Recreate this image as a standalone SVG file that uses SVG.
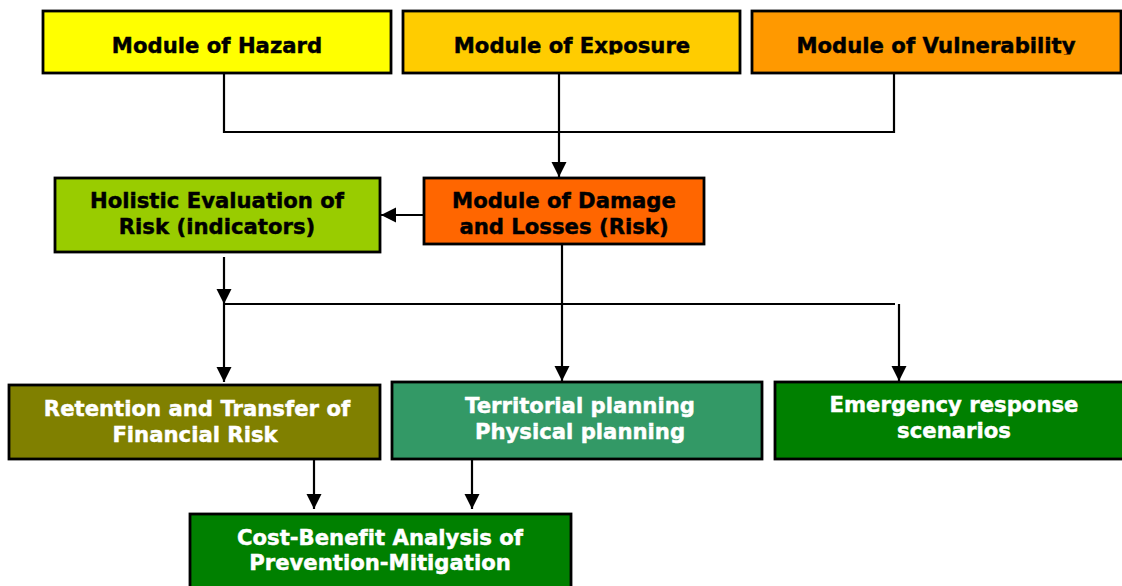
<svg xmlns="http://www.w3.org/2000/svg" width="1122" height="586" viewBox="0 0 1122 586">
<style>
.box{stroke:#000;stroke-width:2.8}
.t{font-family:"DejaVu Sans",Verdana,sans-serif;font-weight:bold;font-size:21.2px;text-anchor:middle;stroke-width:0.45px;font-variant-ligatures:none}
.dk{fill:#000;stroke:#000}
.wt{fill:#fff;stroke:#fff}
.ln{fill:none;stroke:#000;stroke-width:2.2}
</style>
<defs>
<marker id="ah" markerUnits="userSpaceOnUse" markerWidth="16" markerHeight="16" refX="15" refY="7.5" orient="auto">
<path d="M0,0 L15,7.5 L0,15 Z" fill="#000"/>
</marker>
<clipPath id="topclip"><rect x="0" y="0" width="1122" height="54.5"/></clipPath>
</defs>
<rect width="1122" height="586" fill="#fff"/>
<g id="connectors">
<polyline class="ln" points="224,74 224,132 894,132 894,74"/>
<line class="ln" x1="559" y1="74" x2="559" y2="132"/>
<line class="ln" x1="559" y1="132" x2="559" y2="177" marker-end="url(#ah)"/>
<line class="ln" x1="423" y1="215" x2="381" y2="215" marker-end="url(#ah)"/>
<line class="ln" x1="224" y1="257" x2="224" y2="304" marker-end="url(#ah)"/>
<polyline class="ln" points="224,304 895,304"/>
<line class="ln" x1="224" y1="304" x2="224" y2="382" marker-end="url(#ah)"/>
<line class="ln" x1="899" y1="304" x2="899" y2="381" marker-end="url(#ah)"/>
<line class="ln" x1="562" y1="244" x2="562" y2="381" marker-end="url(#ah)"/>
<line class="ln" x1="314" y1="460" x2="314" y2="509" marker-end="url(#ah)"/>
<line class="ln" x1="472" y1="460" x2="472" y2="509" marker-end="url(#ah)"/>
</g>
<g id="hazard">
<rect class="box" x="43" y="11" width="348" height="62" fill="#FFFF00"/>
<text class="t dk" x="217" y="53" clip-path="url(#topclip)">Module of Hazard</text>
</g>
<g id="exposure">
<rect class="box" x="403" y="11" width="337" height="62" fill="#FFCC00"/>
<text class="t dk" x="572" y="53" clip-path="url(#topclip)">Module of Exposure</text>
</g>
<g id="vulnerability">
<rect class="box" x="752" y="11" width="369" height="62" fill="#FF9900"/>
<text class="t dk" x="936" y="53" clip-path="url(#topclip)">Module of Vulnerability</text>
</g>
<g id="holistic">
<rect class="box" x="55" y="178" width="325" height="74" fill="#99CC00"/>
<text class="t dk" x="217" y="208">Holistic Evaluation of</text>
<text class="t dk" x="217" y="234">Risk (indicators)</text>
</g>
<g id="damage">
<rect class="box" x="424" y="178" width="280" height="66" fill="#FF6600"/>
<text class="t dk" x="564" y="208">Module of Damage</text>
<text class="t dk" x="564" y="234">and Losses (Risk)</text>
</g>
<g id="retention">
<rect class="box" x="9" y="385" width="371" height="74" fill="#808000"/>
<text class="t wt" x="197" y="416">Retention and Transfer of</text>
<text class="t wt" x="195" y="442">Financial Risk</text>
</g>
<g id="territorial">
<rect class="box" x="392" y="382" width="370" height="77" fill="#339966"/>
<text class="t wt" x="580" y="413">Territorial planning</text>
<text class="t wt" x="580" y="439">Physical planning</text>
</g>
<g id="emergency">
<rect class="box" x="775" y="382" width="360" height="77" fill="#008000"/>
<text class="t wt" x="954" y="412">Emergency response</text>
<text class="t wt" x="954" y="438">scenarios</text>
</g>
<g id="costbenefit">
<rect class="box" x="190" y="514" width="381" height="80" fill="#008000"/>
<text class="t wt" x="380" y="545">Cost-Benefit Analysis of</text>
<text class="t wt" x="380" y="570">Prevention-Mitigation</text>
</g>
</svg>
